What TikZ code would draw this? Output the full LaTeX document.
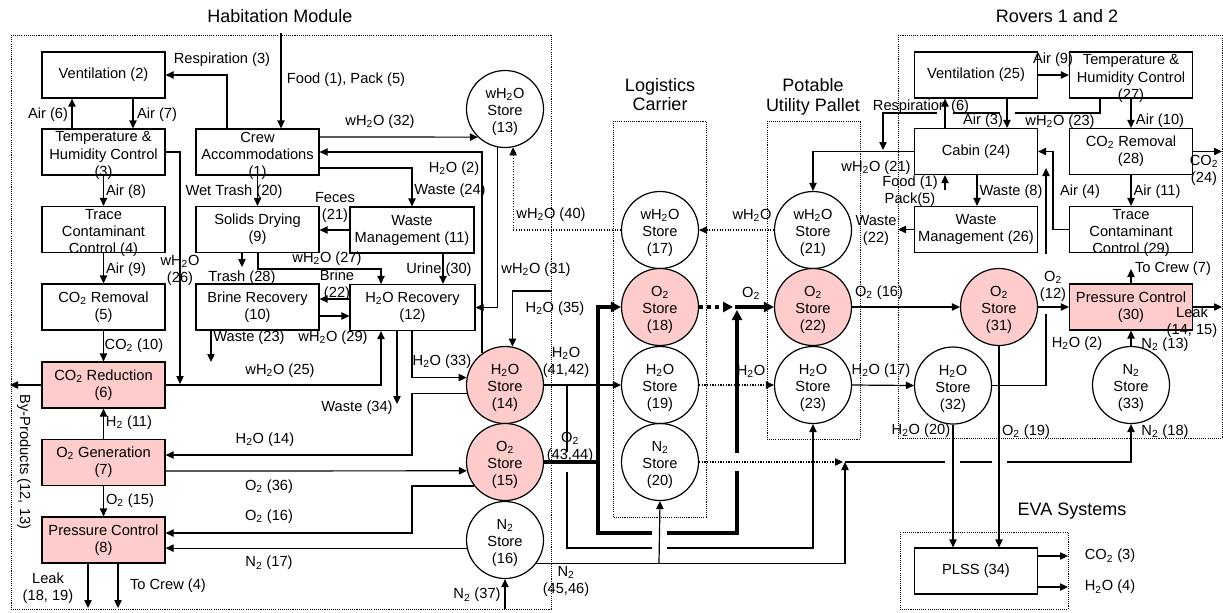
\documentclass[tikz,border=0pt]{standalone}
\usepackage{fontspec}
\setmainfont{Liberation Sans}
\usetikzlibrary{arrows.meta}
\definecolor{pinkc}{RGB}{255,204,204}
\newcommand{\xHHO}{H\textsubscript{2}O}
\newcommand{\xWHO}{wH\textsubscript{2}O}
\newcommand{\xOO}{O\textsubscript{2}}
\newcommand{\xNN}{N\textsubscript{2}}
\newcommand{\xCO}{CO\textsubscript{2}}
\newcommand{\xHH}{H\textsubscript{2}}
\begin{document}
\begin{tikzpicture}[x=0.75pt,y=-0.75pt,
  font=\fontsize{11}{12.8}\selectfont,
  blk/.style={draw,line width=0.9pt,minimum width=92.25pt,minimum height=34.5pt,inner sep=0pt,align=center},
  pblk/.style={blk,fill=pinkc},
  lbl/.style={inner sep=0pt,align=center},
  tank/.style={circle,draw,line width=0.9pt,minimum size=57.75pt,inner sep=0pt,
    label={[lbl,yshift=-2.25pt]center:#1}},
  ptank/.style={tank={#1},fill=pinkc},
  btxt/.style={lbl,yshift=-2.6pt},
  conn/.style={line width=0.9pt,-{Triangle[length=6pt,width=5.5pt]}},
  tconn/.style={line width=2.3pt,line join=miter,line cap=rect,-{Triangle[length=7.5pt,width=7.5pt]}},
  tline/.style={line width=2.3pt,line join=miter,line cap=rect},
  tdconn/.style={line width=2.3pt,dash pattern=on 3pt off 3pt,-{Triangle[length=7.5pt,width=7.5pt]}},
  dconn/.style={line width=0.8pt,dash pattern=on 0.8pt off 1.2pt,-{Triangle[length=6pt,width=5.5pt]}},
  modbox/.style={line width=0.6pt,dash pattern=on 0.8pt off 0.8pt},
  ttl/.style={inner sep=0pt,align=center,font=\fontsize{13.5}{14.5}\selectfont}]
\useasboundingbox (0,0) rectangle (1223,612);

% ---------- frames ----------
\draw[modbox] (11,35) rectangle (551,609);
\draw[modbox] (613,121) rectangle (706,517);
\draw[modbox] (767,121) rectangle (860,439);
\draw[modbox] (898,35) rectangle (1222,438);
\draw[modbox] (900,532) rectangle (1068,609);

\node[ttl] (tHab) at (280,16) {Habitation Module};
\node[ttl] (tLog) at (660,94.5) {Logistics\\Carrier};
\node[ttl] (tPUP) at (813,97) {Potable\\Utility Pallet};
\node[ttl] (tRov) at (1057,16) {Rovers 1 and 2};
\node[ttl] (tEVA) at (1072,511) {EVA Systems};

% ---------- habitation boxes ----------
\node[blk] (vent2) at (103.5,75) {Ventilation (2)};
\node[blk] (thc3) at (103.5,152) {};
\node[btxt] (thc3t) at (thc3) {Temperature \&\\Humidity Control\\(3)};
\node[blk] (tcc4) at (103.5,229.5) {};
\node[btxt] (tcc4t) at (tcc4) {Trace\\Contaminant\\Control (4)};
\node[blk] (cor5) at (103.5,307) {\xCO{} Removal\\(5)};
\node[pblk] (crd6) at (103.5,385) {\xCO{} Reduction\\(6)};
\node[pblk] (ogn7) at (103.5,462.5) {\xOO{} Generation\\(7)};
\node[pblk] (prc8) at (103.5,540) {Pressure Control\\(8)};
\node[blk] (crew1) at (257.5,152) {};
\node[btxt] (crew1t) at (crew1) {Crew\\Accommodations\\(1)};
\node[blk] (sd9) at (257.5,229.5) {Solids Drying\\(9)};
\node[blk] (br10) at (257.5,307) {Brine Recovery\\(10)};
\node[blk,minimum width=93pt] (wm11) at (412,230) {Waste\\Management (11)};
\node[blk,minimum width=93.75pt] (hr12) at (412.5,307.5) {\xHHO{} Recovery\\(12)};

% ---------- stores ----------
\node[tank={\xWHO\\Store\\(13)}] (ws13) at (505,109) {};
\node[ptank={\xHHO\\Store\\(14)}] (hs14) at (505,385) {};
\node[ptank={\xOO\\Store\\(15)}] (os15) at (505,462) {};
\node[tank={\xNN\\Store\\(16)}] (ns16) at (505,540) {};
\node[tank={\xWHO\\Store\\(17)}] (ws17) at (660,230) {};
\node[ptank={\xOO\\Store\\(18)}] (os18) at (660,307) {};
\node[tank={\xHHO\\Store\\(19)}] (hs19) at (660,385) {};
\node[tank={\xNN\\Store\\(20)}] (ns20) at (660,462) {};
\node[tank={\xWHO\\Store\\(21)}] (ws21) at (813,230) {};
\node[ptank={\xOO\\Store\\(22)}] (os22) at (813,307) {};
\node[tank={\xHHO\\Store\\(23)}] (hs23) at (813,385) {};
\node[ptank={\xOO\\Store\\(31)}] (os31) at (999,307) {};
\node[tank={\xHHO\\Store\\(32)}] (hs32) at (953,385.5) {};
\node[tank={\xNN\\Store\\(33)}] (ns33) at (1131,385) {};

% ---------- rover boxes ----------
\node[blk] (vent25) at (976,75) {Ventilation (25)};
\node[blk] (thc27) at (1131,75) {};
\node[btxt] (thc27t) at (thc27) {Temperature \&\\Humidity Control\\(27)};
\node[blk] (cab24) at (976,151.5) {Cabin (24)};
\node[blk] (cor28) at (1131,151.5) {\xCO{} Removal\\(28)};
\node[blk] (wm26) at (976,229.5) {Waste\\Management (26)};
\node[blk] (tcc29) at (1131,229.5) {};
\node[btxt] (tcc29t) at (tcc29) {Trace\\Contaminant\\Control (29)};
\node[pblk] (prc30) at (1131,307) {Pressure Control\\(30)};
\node[blk] (plss34) at (976,571) {PLSS (34)};

% ---------- habitation connectors ----------
\coordinate (foodin) at (281,33);
\draw[conn] (foodin) -- (crew1.north -| foodin);
\draw[conn] (crew1.north -| 227,0) |- (vent2.east);
\draw[conn] (thc3.north -| 72,0) -- (vent2.south -| 72,0);
\draw[conn] (vent2.south -| 133,0) -- (thc3.north -| 133,0);
\draw[conn] (thc3.south) -- (tcc4.north);
\draw[conn] (tcc4.south) -- (cor5.north);
\draw[conn] (cor5.south) -- (crd6.north);
\coordinate (byp) at (10,385);
\draw[conn] (crd6.west) -- (byp);
\draw[conn] (ogn7.north) -- (crd6.south);
\draw[conn] (ogn7.south) -- (prc8.north);
\coordinate (leak8) at (88,608);
\draw[conn] (prc8.south -| leak8) -- (leak8);
\coordinate (crew4) at (118,608);
\draw[conn] (prc8.south -| crew4) -- (crew4);
\draw[conn] (thc3.east) -- (180,152) -- (180,384);
\draw[conn] (crd6.east) -| (hr12.south -| 381,0);
\draw[conn] (crew1.south) -- (sd9.north);
\draw[conn] (crew1.east |- 0,137) -- (ws13.226.6);
\draw[conn] (hs14.126.7) |- (crew1.east);
\draw[conn] (crew1.east |- 0,168) -| (wm11.north);
\draw[conn] (wm11.west) -- (sd9.east |- wm11.west);
\coordinate (trash) at (242,267);
\draw[conn] (sd9.south -| trash) -- (trash);
\draw[conn] (sd9.south -| 258,0) -- (258,269) -| (hr12.north -| 381,0);
\draw[conn] (wm11.south -| 443,0) -- (hr12.north -| 443,0);
\draw[conn] (hr12.west |- 0,299) -- (br10.east |- 0,299);
\draw[conn] (br10.east |- 0,316) -- (hr12.west |- 0,316);
\coordinate (w23) at (211,362);
\draw[conn] (br10.south -| w23) -- (w23);
\draw[conn] (ws13.259.5) |- (hr12.east);
\draw[dconn] (ws17.west) -| (ws13.282);
\coordinate (h35) at (552,291);
\draw[conn] (h35) -| (hs14.79.5);
\draw[conn] (hr12.south -| 412,0) |- (hs14.169.5);
\coordinate (w34) at (397,404);
\draw[conn] (hr12.south -| w34) -- (w34);
\draw[conn] (hs14.192) -| (412,455) -- (ogn7.east |- 0,455);
\draw[conn] (ogn7.east |- 0,471) -- (os15.193.5);
\draw[conn] (os15.218.6) -| (412,533) -- (prc8.east |- 0,533);
\draw[conn] (ns16.192) -- (prc8.east |- ns16.192);
\coordinate (n37) at (505,609);
\draw[conn] (n37) -- (ns16.south);

% ---------- transfers between modules ----------
\draw[conn] (hs14.east) -- (hs19.west);
\draw[conn] (567,385) |- (hs23.south |- 0,548) -- (hs23.south);
\fill[white] (563,452) rectangle (571,472);
\fill[white] (652,545) rectangle (667,551);
\draw[tline] (os15.east) -- (598,462);
\draw[tconn] (598,533) |- (os18.west);
\draw[tconn] (598,533) -| (737,310);
\draw[tconn] (737,307) -- (os22.west);
\draw[tdconn] (os18.east) -- (733,307);
\fill[white] (652,528) rectangle (667,538);
\fill[white] (731,453) rectangle (743,471);
\coordinate (j2) at (845,462);
\draw[conn] (ns16.323.3) -| (j2);
\draw[conn] (659,563) -- (ns20.south);
\draw[dconn] (ns20.east) -- (843,462);
\draw[conn] (j2) -| (ns33.south);
\fill[white] (945,458) rectangle (960,466);
\fill[white] (992,458) rectangle (1007,466);
\draw[dconn] (ws21.west) -- (ws17.east);
\draw[dconn] (hs19.east) -- (hs23.west);
\draw[conn] (os22.east) -- (os31.west);
\draw[conn] (hs23.east) -- (hs32.west);

% ---------- rover connectors ----------
\draw[conn] (vent25.east) -- (thc27.west);
\draw[conn] (thc27.south) -- (cor28.north);
\draw[conn] (cor28.south) -- (tcc29.north);
\coordinate (co24) at (1222,151.5);
\draw[conn] (cor28.east) -- (co24);
\draw[conn] (tcc29.west) -| (1053,151.5) -- (cab24.east);
\draw[conn] (cab24.west) -| (ws21.north);
\draw[conn] (thc27.south -| 1100,0) |- (883,113) -- (883,150);
\fill[white] (937,110) rectangle (953,116);
\fill[white] (1000,110) rectangle (1015,116);
\draw[conn] (cab24.north -| 945,0) -- (vent25.south -| 945,0);
\draw[conn] (vent25.south -| 1007,0) -- (cab24.north -| 1007,0);
\coordinate (food24) at (945,190);
\draw[conn] (food24) -- (cab24.south -| food24);
\draw[conn] (cab24.south -| 977,0) -- (wm26.north -| 977,0);
\coordinate (w22) at (898,229.5);
\draw[conn] (wm26.west) -- (w22);
\coordinate (cabh) at (1046,168);
\draw[conn] (hs32.east) -| (cabh);
\fill[white] (1042,254) rectangle (1050,314);
\draw[conn] (os31.east) -- (prc30.west);
\draw[conn] (ns33.north) -- (prc30.south);
\coordinate (tocrew7) at (1131,269);
\draw[conn] (prc30.north) -- (tocrew7);
\coordinate (leak30) at (1222,307);
\draw[conn] (prc30.east) -- (leak30);
\draw[conn] (hs32.south) -- (plss34.north -| hs32.south);
\draw[conn] (os31.south) -- (plss34.north -| os31.south);
\coordinate (eco) at (1068,556);
\coordinate (eho) at (1068,587);
\draw[conn] (plss34.east |- eco) -- (eco);
\draw[conn] (plss34.east |- eho) -- (eho);

% ---------- labels ----------
\node[lbl] (l01) at (222,60) {Respiration (3)};
\node[lbl] (l02) at (346,80) {Food (1), Pack (5)};
\node[lbl] (l03) at (48,115) {Air (6)};
\node[lbl] (l04) at (157,115) {Air (7)};
\node[lbl] (l05) at (126,192) {Air (8)};
\node[lbl] (l06) at (126,270) {Air (9)};
\node[lbl] (l07) at (134,346) {\xCO{} (10)};
\node[lbl,rotate=-90] (l08) at (24,462) {By-Products (12, 13)};
\node[lbl] (l09) at (129,423) {\xHH{} (11)};
\node[lbl] (l10) at (130,501) {\xOO{} (15)};
\node[lbl] (l11) at (48,588) {Leak\\(18, 19)};
\node[lbl] (l12) at (168,586) {To Crew (4)};
\node[lbl] (l13) at (180,270) {\xWHO\\(26)};
\node[lbl] (l14) at (280,371) {\xWHO{} (25)};
\node[lbl] (l15) at (234,192) {Wet Trash (20)};
\node[lbl] (l16) at (380,122) {\xWHO{} (32)};
\node[lbl] (l17) at (454,169) {\xHHO{} (2)};
\node[lbl] (l18) at (450,191) {Waste (24)};
\node[lbl] (l19) at (335,207) {Feces\\(21)};
\node[lbl] (l20) at (242,278) {Trash (28)};
\node[lbl] (l21) at (327,259) {\xWHO{} (27)};
\node[lbl] (l22) at (337,285) {Brine\\(22)};
\node[lbl] (l23) at (439,270) {Urine (30)};
\node[lbl] (l24) at (536,270) {\xWHO{} (31)};
\node[lbl] (l25) at (551,215) {\xWHO{} (40)};
\node[lbl] (l26) at (555,309) {\xHHO{} (35)};
\node[lbl] (l27) at (333,338) {\xWHO{} (29)};
\node[lbl] (l28) at (249,338) {Waste (23)};
\node[lbl] (l29) at (442,362) {\xHHO{} (33)};
\node[lbl] (l30) at (357,408) {Waste (34)};
\node[lbl] (l31) at (265,440) {\xHHO{} (14)};
\node[lbl] (l32) at (269,487) {\xOO{} (36)};
\node[lbl] (l33) at (269,517) {\xOO{} (16)};
\node[lbl] (l34) at (269,563) {\xNN{} (17)};
\node[lbl] (l35) at (477,595) {\xNN{} (37)};
\node[lbl] (l36) at (566,362) {\xHHO\\(41,42)};
\node[lbl] (l37) at (570,447) {\xOO\\(43,44)};
\node[lbl] (l38) at (566,581) {\xNN\\(45,46)};
\node[lbl] (l39) at (752,215) {\xWHO};
\node[lbl] (l40) at (751,293) {\xOO};
\node[lbl] (l41) at (751,371) {\xHHO};
\node[lbl] (l42) at (879,293) {\xOO{} (16)};
\node[lbl] (l43) at (881,371) {\xHHO{} (17)};
\node[lbl] (l44) at (876,230) {Waste\\(22)};
\node[lbl] (l45) at (876,168) {\xWHO{} (21)};
\node[lbl] (l46) at (910,191) {Food (1)\\Pack(5)};
\node[lbl] (l47) at (921,107) {Respiration (6)};
\node[lbl] (l48) at (983,121) {Air (3)};
\node[lbl] (l49) at (1060,122) {\xWHO{} (23)};
\node[lbl] (l50) at (1053,60) {Air (9)};
\node[lbl] (l51) at (1160,121) {Air (10)};
\node[lbl] (l52) at (1204,170) {\xCO\\(24)};
\node[lbl] (l53) at (1011,192) {Waste (8)};
\node[lbl] (l54) at (1080,192) {Air (4)};
\node[lbl] (l55) at (1157,192) {Air (11)};
\node[lbl] (l56) at (1053,286) {\xOO\\(12)};
\node[lbl] (l57) at (1173,269) {To Crew (7)};
\node[lbl] (l58) at (1192,322.5) {Leak\\(14, 15)};
\node[lbl] (l59) at (1077,344) {\xHHO{} (2)};
\node[lbl] (l60) at (1165,345) {\xNN{} (13)};
\node[lbl] (l61) at (921,431) {\xHHO{} (20)};
\node[lbl] (l62) at (1026,432) {\xOO{} (19)};
\node[lbl] (l63) at (1165,432) {\xNN{} (18)};
\node[lbl] (l64) at (1110,556) {\xCO{} (3)};
\node[lbl] (l65) at (1110,587) {\xHHO{} (4)};
\end{tikzpicture}
\end{document}
